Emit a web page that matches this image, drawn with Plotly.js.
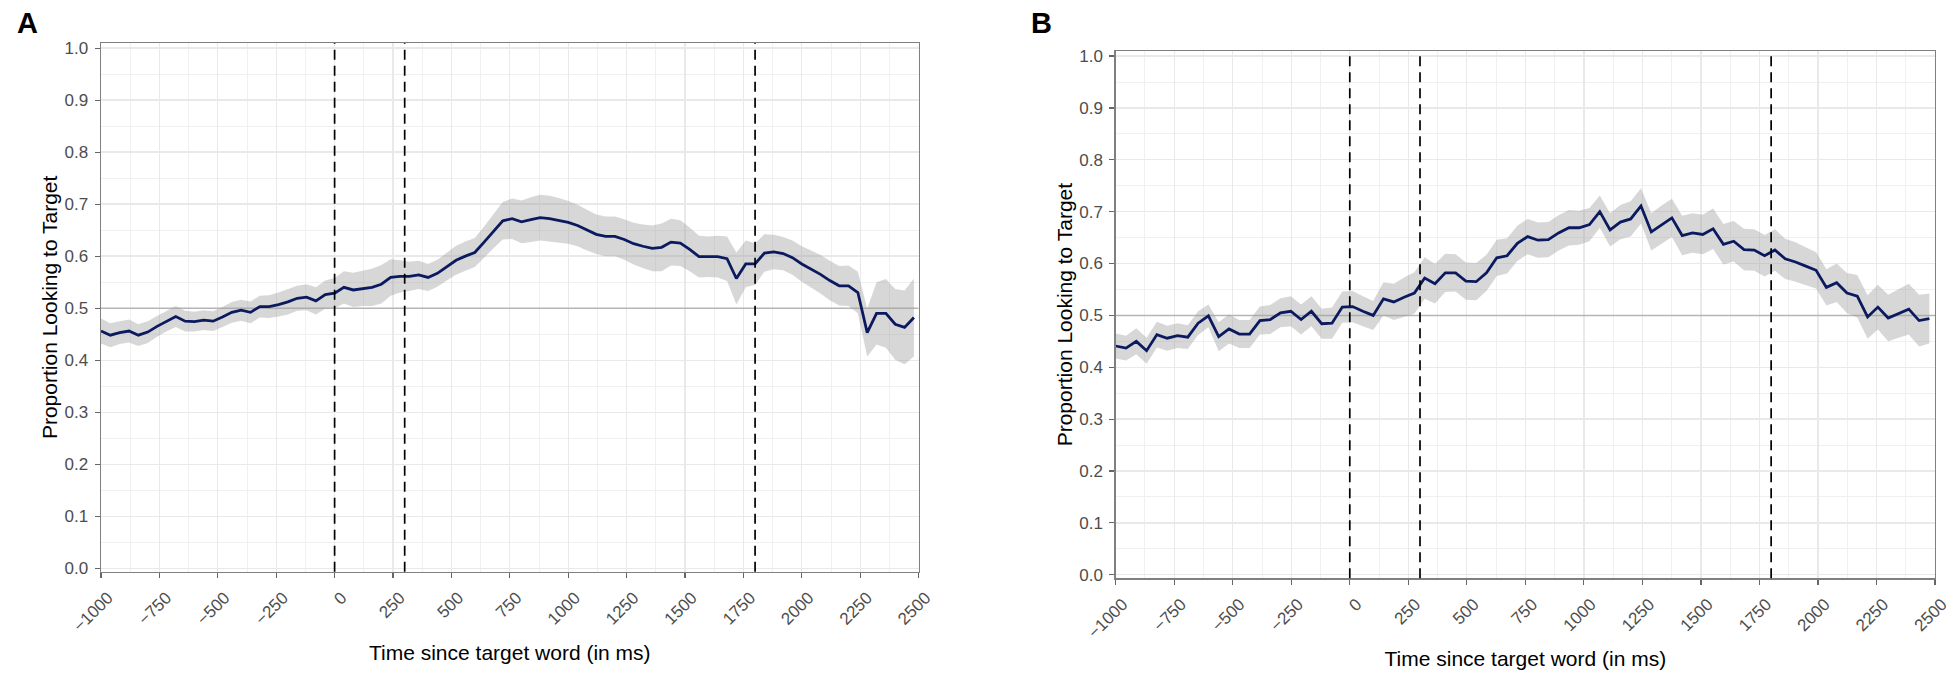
<!DOCTYPE html>
<html>
<head>
<meta charset="utf-8">
<script src="https://cdn.plot.ly/plotly-3.0.1.min.js"></script>
<style>
  html, body { margin: 0; padding: 0; background: #ffffff; }
  #chart { width: 1950px; height: 679px; }
</style>
</head>
<body>
<div id="chart"></div>
<script>
// ---------- DATA ----------
var timeA = [-1000,-960,-920,-880,-840,-800,-760,-720,-680,-640,-600,-560,-520,-480,-440,-400,-360,-320,-280,-240,-200,-160,-120,-80,-40,0,40,80,120,160,200,240,280,320,360,400,440,480,520,560,600,640,680,720,760,800,840,880,920,960,1000,1040,1080,1120,1160,1200,1240,1280,1320,1360,1400,1440,1480,1520,1560,1600,1640,1680,1720,1760,1800,1840,1880,1920,1960,2000,2040,2080,2120,2160,2200,2240,2280,2320,2360,2400,2440,2480];
var propA = [0.456,0.448,0.453,0.456,0.448,0.454,0.465,0.475,0.484,0.475,0.474,0.477,0.475,0.483,0.492,0.496,0.492,0.503,0.503,0.507,0.512,0.519,0.521,0.514,0.526,0.529,0.540,0.535,0.538,0.540,0.546,0.559,0.561,0.561,0.564,0.559,0.567,0.580,0.592,0.600,0.607,0.627,0.648,0.668,0.672,0.666,0.670,0.674,0.672,0.669,0.665,0.659,0.650,0.642,0.638,0.638,0.632,0.624,0.619,0.615,0.617,0.627,0.625,0.613,0.599,0.599,0.599,0.595,0.557,0.585,0.585,0.606,0.608,0.605,0.597,0.585,0.575,0.565,0.553,0.543,0.543,0.530,0.453,0.490,0.490,0.469,0.463,0.482];
var ciA = [0.024,0.023,0.022,0.022,0.021,0.021,0.020,0.020,0.020,0.020,0.019,0.019,0.019,0.019,0.020,0.020,0.021,0.021,0.022,0.023,0.024,0.024,0.025,0.026,0.027,0.029,0.031,0.033,0.034,0.036,0.037,0.035,0.031,0.028,0.027,0.026,0.026,0.027,0.028,0.028,0.028,0.030,0.033,0.036,0.039,0.041,0.043,0.044,0.044,0.043,0.041,0.040,0.039,0.038,0.038,0.038,0.039,0.040,0.042,0.044,0.046,0.045,0.044,0.042,0.040,0.039,0.040,0.043,0.050,0.045,0.040,0.036,0.033,0.032,0.033,0.034,0.036,0.037,0.038,0.038,0.039,0.040,0.046,0.060,0.066,0.068,0.071,0.075];

var timeB = [-1000,-956,-912,-868,-824,-780,-736,-692,-648,-604,-560,-516,-472,-428,-384,-340,-296,-252,-208,-164,-120,-76,-32,12,56,100,144,188,232,276,320,364,408,452,496,540,584,628,672,716,760,804,848,892,936,980,1024,1068,1112,1156,1200,1244,1288,1332,1376,1420,1464,1508,1552,1596,1640,1684,1728,1772,1816,1860,1904,1948,1992,2036,2080,2124,2168,2212,2256,2300,2344,2388,2432,2476];
var propB = [0.441,0.437,0.450,0.432,0.463,0.456,0.461,0.458,0.485,0.499,0.459,0.474,0.464,0.464,0.490,0.492,0.505,0.508,0.492,0.508,0.484,0.485,0.516,0.517,0.508,0.500,0.532,0.526,0.535,0.543,0.572,0.561,0.582,0.582,0.566,0.565,0.582,0.611,0.615,0.639,0.652,0.645,0.646,0.659,0.669,0.669,0.675,0.700,0.665,0.680,0.686,0.711,0.661,0.675,0.688,0.654,0.659,0.656,0.667,0.637,0.643,0.627,0.626,0.615,0.626,0.609,0.603,0.595,0.587,0.554,0.563,0.543,0.537,0.497,0.516,0.495,0.503,0.512,0.490,0.494];
var ciB = [0.024,0.024,0.025,0.025,0.025,0.024,0.024,0.023,0.023,0.022,0.028,0.028,0.027,0.027,0.027,0.028,0.028,0.029,0.029,0.029,0.029,0.030,0.030,0.030,0.029,0.028,0.032,0.035,0.038,0.040,0.040,0.038,0.037,0.036,0.036,0.036,0.035,0.035,0.034,0.034,0.034,0.034,0.034,0.034,0.034,0.033,0.032,0.031,0.032,0.033,0.034,0.034,0.036,0.037,0.037,0.038,0.038,0.038,0.039,0.039,0.039,0.040,0.040,0.040,0.040,0.039,0.038,0.036,0.035,0.035,0.037,0.039,0.041,0.042,0.043,0.045,0.047,0.049,0.050,0.048];

var markerTimes = [0, 300, 1800];
var referenceLevel = 0.5;
var panelLabels = ["A", "B"];
var xTitle = "Time since target word (in ms)";
var yTitle = "Proportion Looking to Target";

// ---------- STYLE ----------
var FONT = "Liberation Sans, Arial, Helvetica, sans-serif";
var LINE_COLOR = "#0b1a5e";
var BAND_COLOR = "rgba(160,160,160,0.42)";
var GRID = "#e9e9e9";
var GRID_MINOR = "#f0f0f0";
var BORDER = "#808080";
var TICKTXT = "#4d4d4d";

function ribbon(t, v, ci, xa, ya) {
  var up = [], lo = [];
  for (var i = 0; i < t.length; i++) { up.push(v[i] + ci[i]); lo.push(v[i] - ci[i]); }
  return {
    x: t.concat(t.slice().reverse()),
    y: up.concat(lo.reverse()),
    xaxis: xa, yaxis: ya,
    type: "scatter", mode: "lines",
    fill: "toself", fillcolor: BAND_COLOR,
    line: { width: 0, color: "rgba(0,0,0,0)" },
    hoverinfo: "skip", showlegend: false
  };
}
function meanLine(t, v, xa, ya) {
  return {
    x: t, y: v, xaxis: xa, yaxis: ya,
    type: "scatter", mode: "lines",
    line: { color: LINE_COLOR, width: 2.8 },
    showlegend: false
  };
}
function refLine(xa, ya) {
  return {
    x: [-1000, 2500], y: [referenceLevel, referenceLevel],
    xaxis: xa, yaxis: ya,
    type: "scatter", mode: "lines",
    line: { color: "#b5b5b5", width: 1.5 },
    hoverinfo: "skip", showlegend: false
  };
}

var data = [
  refLine("x", "y"),
  ribbon(timeA, propA, ciA, "x", "y"),
  meanLine(timeA, propA, "x", "y"),
  refLine("x2", "y2"),
  ribbon(timeB, propB, ciB, "x2", "y2"),
  meanLine(timeB, propB, "x2", "y2")
];

function xAxis(domain, anchor) {
  return {
    domain: domain, anchor: anchor,
    range: [-1000, 2500],
    tickmode: "linear", tick0: 0, dtick: 250,
    tickangle: -45,
    ticks: "outside", ticklen: 5, tickwidth: 1.2, tickcolor: "#666",
    ticklabelshift: 7, ticklabelstandoff: 3,
    ticklabeloverflow: "allow",
    tickfont: { family: FONT, size: 17, color: TICKTXT },
    showgrid: true, gridcolor: GRID, gridwidth: 1.3,
    minor: { dtick: 125, tick0: 0, showgrid: true, gridcolor: GRID_MINOR, gridwidth: 1, ticks: "" },
    zeroline: false,
    showline: true, mirror: true, linecolor: BORDER, linewidth: 1.4,
    title: { text: xTitle, font: { family: FONT, size: 21, color: "#000" }, standoff: 10 },
    automargin: false,
    fixedrange: true
  };
}
function yAxis(domain, anchor) {
  return {
    domain: domain, anchor: anchor,
    range: [-0.0067, 1.0098],
    tickmode: "linear", tick0: 0, dtick: 0.1, tickformat: ".1f",
    ticks: "outside", ticklen: 5, tickwidth: 1.2, tickcolor: "#666",
    ticklabelstandoff: 3,
    tickfont: { family: FONT, size: 17, color: TICKTXT },
    showgrid: true, gridcolor: GRID, gridwidth: 1.3,
    minor: { dtick: 0.05, tick0: 0, showgrid: true, gridcolor: GRID_MINOR, gridwidth: 1, ticks: "" },
    zeroline: false,
    showline: true, mirror: true, linecolor: BORDER, linewidth: 1.4,
    title: { text: yTitle, font: { family: FONT, size: 21, color: "#000" }, standoff: 1 },
    automargin: false,
    fixedrange: true
  };
}

function layoutDomain(yname) {
  return yname === "y" ? [1 - 571.7 / 679, 1 - 43 / 679] : [1 - 578.2 / 679, 1 - 51 / 679];
}
var shapes = [];
[["x", "y"], ["x2", "y2"]].forEach(function (ax) {
  markerTimes.forEach(function (mt) {
    shapes.push({
      type: "line", layer: "above",
      xref: ax[0], x0: mt, x1: mt,
      yref: "paper",
      y0: layoutDomain(ax[1])[0], y1: layoutDomain(ax[1])[1],
      line: { color: "#000", width: 1.7, dash: "10px,6px" }
    });
  });
});

var annotations = [
  { text: "<b>" + panelLabels[0] + "</b>", xref: "paper", yref: "paper",
    x: 15 / 1950, y: 1 - 41 / 679, xanchor: "left", yanchor: "bottom",
    showarrow: false, font: { family: FONT, size: 29, color: "#000" } },
  { text: "<b>" + panelLabels[1] + "</b>", xref: "paper", yref: "paper",
    x: 1029 / 1950, y: 1 - 41 / 679, xanchor: "left", yanchor: "bottom",
    showarrow: false, font: { family: FONT, size: 29, color: "#000" } }
];

var layout = {
  width: 1950, height: 679,
  margin: { l: 0, r: 0, t: 0, b: 0, pad: 0 },
  paper_bgcolor: "#ffffff", plot_bgcolor: "#ffffff",
  showlegend: false,
  xaxis: xAxis([101 / 1950, 918.6 / 1950], "y"),
  yaxis: yAxis(layoutDomain("y"), "x"),
  xaxis2: xAxis([1115.7 / 1950, 1935 / 1950], "y2"),
  yaxis2: yAxis(layoutDomain("y2"), "x2"),
  shapes: shapes,
  annotations: annotations,
  font: { family: FONT }
};

Plotly.newPlot("chart", data, layout, { displayModeBar: false, staticPlot: true });
</script>
</body>
</html>
